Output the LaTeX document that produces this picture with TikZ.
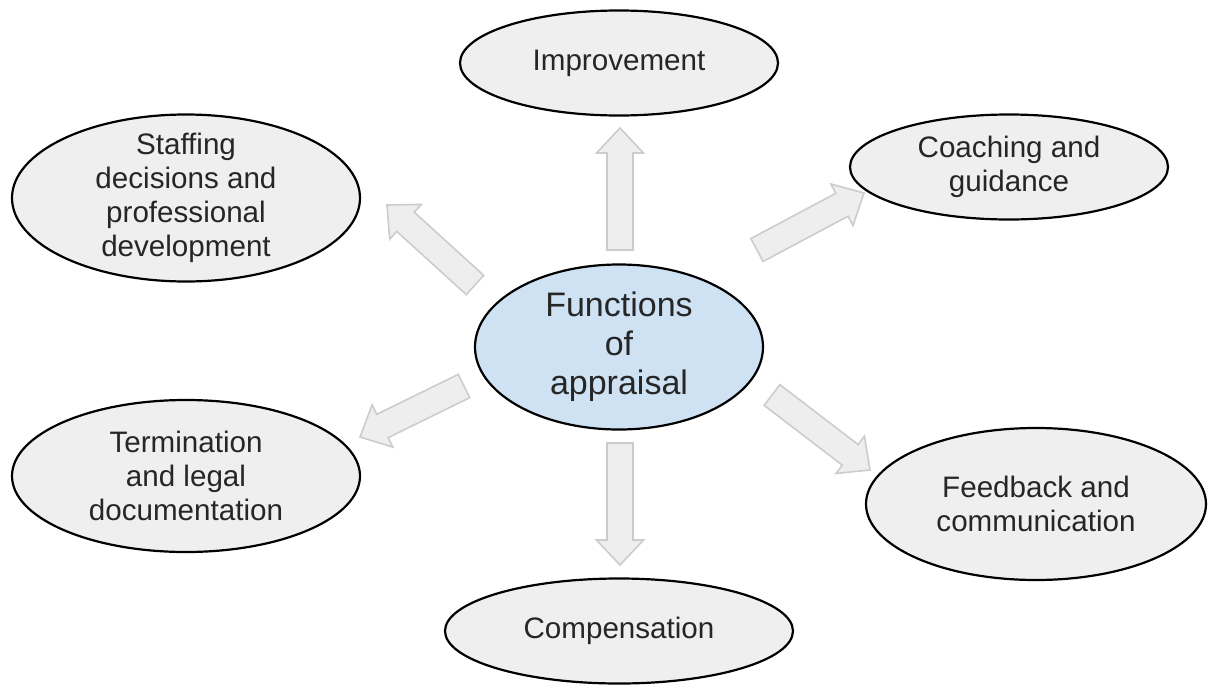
\documentclass[tikz,border=0pt]{standalone}
\usepackage{fontspec}
\setmainfont{Liberation Sans}
\usetikzlibrary{shapes.geometric,calc}
\definecolor{bubblegray}{HTML}{EFEFEF}
\definecolor{bubbleblue}{HTML}{CFE2F3}
\definecolor{arrowgray}{HTML}{EEEEEE}
\definecolor{arrowline}{HTML}{CCCCCC}
\newcommand{\blockarrow}[2]{%
	\path ($(#2)!12.5pt!(#1)$) coordinate (hb);
	\draw [arrowshape] ($(#1)!6.5pt!90:(#2)$) -- ($(hb)!6.5pt!90:(#2)$) -- ($(hb)!11.75pt!90:(#2)$) -- (#2) -- ($(hb)!11.75pt!-90:(#2)$) -- ($(hb)!6.5pt!-90:(#2)$) -- ($(#1)!6.5pt!-90:(#2)$) -- cycle;
}
\begin{document}
\begin{tikzpicture}[x=0.5pt,y=-0.5pt,
		bubble/.style={ellipse, draw=black, line width=1.1pt, fill=bubblegray, inner sep=0pt, align=center, text=black!85, font=\fontsize{14.8}{17}\selectfont},
		arrowshape/.style={fill=arrowgray, draw=arrowline, line width=0.8pt, line join=miter}]
		\useasboundingbox (0,0) rectangle (1211,686);
		\node [bubble, fill=bubbleblue, minimum width=144pt, minimum height=82.5pt, font=\fontsize{17}{19.5}\selectfont] (fa) at (619,347) {Functions\\of\\appraisal};
		\node [bubble, minimum width=159pt, minimum height=52.5pt] (imp) at (619,63) {Improvement};
		\node [bubble, minimum width=159pt, minimum height=52.5pt] (coach) at (1009,167) {Coaching and\\guidance};
		\node [bubble, minimum width=174pt, minimum height=83.5pt, inner ysep=-4.5pt] (staff) at (186,198) {Staffing\\decisions and\\professional\\development};
		\node [bubble, minimum width=174pt, minimum height=76pt] (term) at (186,476) {Termination\\and legal\\documentation};
		\node [bubble, minimum width=170pt, minimum height=76pt] (feed) at (1036,504) {Feedback and\\communication};
		\node [bubble, minimum width=174pt, minimum height=52.5pt] (comp) at (619,631) {Compensation};
		\coordinate (impt) at (620,250);
		\coordinate (imph) at (620,128);
		\coordinate (compt) at (620,443);
		\coordinate (comph) at (620,565);
		\coordinate (coacht) at (757,250);
		\coordinate (coachh) at (864,193);
		\coordinate (stafft) at (475,285);
		\coordinate (staffh) at (387,205);
		\coordinate (termt) at (464,386);
		\coordinate (termh) at (360,437);
		\coordinate (feedt) at (772,395);
		\coordinate (feedh) at (870,470);
		\blockarrow{impt}{imph}
		\blockarrow{compt}{comph}
		\blockarrow{coacht}{coachh}
		\blockarrow{stafft}{staffh}
		\blockarrow{termt}{termh}
		\blockarrow{feedt}{feedh}
\end{tikzpicture}
\end{document}
